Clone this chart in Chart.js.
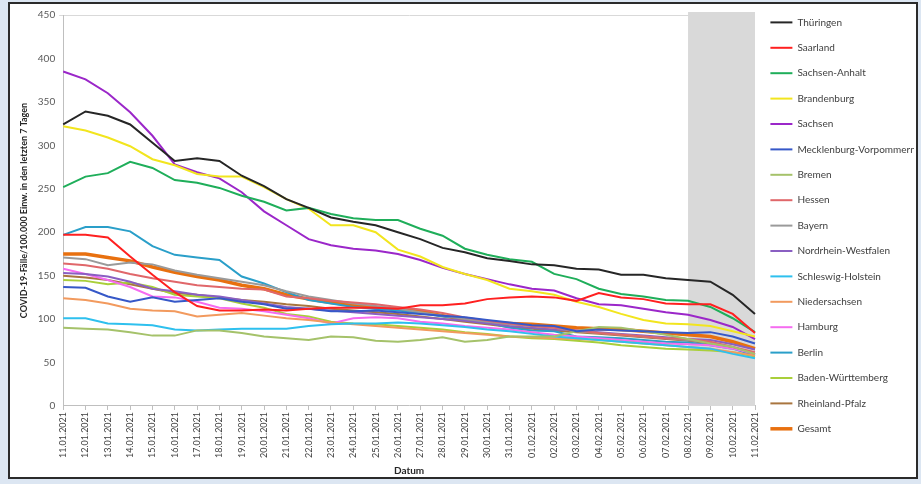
<!DOCTYPE html>
<html>
<head>
<meta charset="utf-8">
<script src="https://cdn.jsdelivr.net/npm/chart.js@4.4.1/dist/chart.umd.min.js"></script>
<style>
  html, body { margin: 0; padding: 0; background: #dce6f2; }
  #frame {
    position: absolute; left: 8px; top: 2px; width: 906px; height: 473px;
    background: #fff; border: 2px solid #2b2b2b;
  }
  #wrap { position: absolute; left: 2px; top: 1px; width: 902px; height: 472px; }
</style>
</head>
<body>
<div id="frame"><div id="wrap"><canvas id="chart"></canvas></div></div>
<script>
// Datum
const labels = ['11.01.2021','12.01.2021','13.01.2021','14.01.2021','15.01.2021','16.01.2021','17.01.2021','18.01.2021',
  '19.01.2021','20.01.2021','21.01.2021','22.01.2021','23.01.2021','24.01.2021','25.01.2021','26.01.2021',
  '27.01.2021','28.01.2021','29.01.2021','30.01.2021','31.01.2021','01.02.2021','02.02.2021','03.02.2021',
  '04.02.2021','05.02.2021','06.02.2021','07.02.2021','08.02.2021','09.02.2021','10.02.2021','11.02.2021'];

// 7-Tage-Inzidenz je Bundesland
const thueringen = [324, 339, 334, 324, 303, 282, 285, 282, 265, 253, 238, 228, 217, 212, 208, 200, 192, 182, 177, 170, 167, 163, 162, 158, 157, 151, 151, 147, 145, 143, 128, 106];
const saarland = [197, 197, 194, 172, 151, 131, 115, 110, 110, 111, 110, 112, 113, 113, 113, 112, 116, 116, 118, 123, 125, 126, 125, 121, 130, 125, 123, 118, 117, 117, 106, 84];
const sachsenAnhalt = [252, 264, 268, 281, 274, 260, 257, 251, 242, 235, 225, 228, 221, 216, 214, 214, 204, 196, 181, 174, 169, 166, 152, 146, 135, 129, 126, 122, 121, 114, 101, 85];
const brandenburg = [322, 317, 309, 299, 284, 277, 267, 264, 264, 252, 238, 227, 208, 208, 200, 180, 172, 160, 152, 145, 135, 132, 128, 120, 114, 106, 99, 95, 94, 92, 86, 80];
const sachsen = [385, 376, 360, 338, 311, 278, 269, 262, 246, 224, 208, 192, 185, 181, 179, 175, 168, 159, 152, 146, 140, 135, 133, 124, 117, 116, 112, 108, 105, 99, 91, 77];
const mecklenburg = [137, 136, 126, 120, 125, 120, 122, 124, 120, 117, 112, 112, 109, 109, 110, 108, 106, 104, 102, 99, 96, 93, 92, 86, 88, 87, 86, 85, 84, 85, 80, 72];
const bremen = [90, 89, 88, 85, 81, 81, 87, 87, 84, 80, 78, 76, 80, 79, 75, 74, 76, 79, 74, 76, 80, 80, 80, 86, 91, 90, 86, 82, 77, 72, 68, 60];
const hessen = [164, 162, 158, 152, 147, 143, 139, 137, 135, 134, 126, 124, 121, 119, 117, 114, 111, 107, 102, 98, 95, 92, 90, 87, 84, 82, 80, 78, 77, 74, 68, 62];
const bayern = [171, 169, 162, 165, 163, 156, 151, 147, 143, 139, 132, 126, 122, 118, 115, 112, 108, 104, 100, 97, 94, 92, 90, 86, 84, 82, 80, 78, 76, 73, 68, 60];
const nrw = [153, 152, 149, 143, 135, 132, 128, 126, 122, 118, 114, 112, 110, 108, 106, 104, 102, 100, 98, 95, 92, 90, 88, 87, 85, 83, 81, 79, 77, 76, 71, 65];
const schleswig = [101, 101, 95, 94, 93, 88, 87, 88, 89, 89, 89, 92, 94, 95, 95, 96, 95, 93, 91, 88, 86, 83, 80, 78, 76, 74, 72, 70, 68, 66, 60, 55];
const niedersachsen = [124, 122, 118, 112, 110, 109, 103, 105, 107, 104, 101, 99, 96, 94, 92, 90, 88, 86, 84, 82, 80, 79, 78, 77, 76, 74, 72, 70, 68, 66, 62, 58];
const hamburg = [158, 152, 145, 137, 126, 125, 120, 113, 112, 109, 105, 101, 95, 101, 102, 101, 97, 95, 92, 90, 88, 85, 82, 80, 78, 76, 74, 72, 71, 70, 66, 60];
const berlin = [197, 206, 206, 201, 184, 174, 171, 168, 149, 141, 131, 122, 118, 114, 112, 110, 107, 103, 101, 96, 90, 87, 86, 80, 79, 78, 76, 74, 73, 70, 66, 58];
const badenWuerttemberg = [145, 144, 140, 142, 137, 128, 126, 124, 118, 113, 106, 103, 97, 95, 94, 92, 90, 88, 85, 83, 80, 78, 77, 75, 73, 70, 68, 66, 65, 64, 62, 57];
const rheinlandPfalz = [150, 148, 145, 140, 135, 130, 128, 125, 122, 120, 117, 115, 112, 110, 108, 106, 103, 100, 97, 94, 91, 89, 87, 85, 83, 81, 79, 77, 75, 72, 67, 60];
const gesamt = [175, 175, 171, 167, 160, 154, 149, 145, 139, 135, 128, 123, 119, 116, 113, 112, 109, 104, 99, 96, 95, 94, 92, 90, 89, 88, 86, 84, 82, 80, 74, 66];

// grau hinterlegter Zeitraum (Nachmeldungen)
const shadeFrom = '08.02.2021';
const shadeTo = '11.02.2021';

const yTicks = [0, 50, 100, 150, 200, 250, 300, 350, 400, 450];

function line(label, data, color, width) {
    return {
        label: label,
        data: data,
        borderColor: color,
        backgroundColor: color,
        borderWidth: width || 2,
        pointRadius: 0,
        tension: 0,
        fill: false
    };
}

// grauer Hintergrund für die letzten Tage
const shadePlugin = {
    id: 'shade',
    afterLayout(chart) {
        // Legende etwas höher setzen
        chart.legend.top -= 4;
        chart.legend.bottom -= 4;
    },
    beforeDatasetsDraw(chart) {
        const x = chart.scales.x;
        const area = chart.chartArea;
        const x1 = x.getPixelForValue(labels.indexOf(shadeFrom));
        const x2 = x.getPixelForValue(labels.indexOf(shadeTo));
        const c = chart.ctx;
        c.save();
        c.fillStyle = '#d9d9d9';
        c.fillRect(x1, area.top - 3, x2 - x1, area.bottom - area.top + 3);
        c.restore();
    }
};

const ctx = document.getElementById('chart').getContext('2d');
new Chart(ctx, {
    type: 'line',
    data: {
        labels: labels,
        datasets: [
            line('Thüringen', thueringen, '#262626'),
            line('Saarland', saarland, '#ff2020'),
            line('Sachsen-Anhalt', sachsenAnhalt, '#1fae5a'),
            line('Brandenburg', brandenburg, '#f2e51e'),
            line('Sachsen', sachsen, '#9b27c9'),
            line('Mecklenburg-Vorpommern', mecklenburg, '#3658c8'),
            line('Bremen', bremen, '#a5c26a'),
            line('Hessen', hessen, '#e0676a'),
            line('Bayern', bayern, '#9a9a9a'),
            line('Nordrhein-Westfalen', nrw, '#8a5fc2'),
            line('Schleswig-Holstein', schleswig, '#2ec0ee'),
            line('Niedersachsen', niedersachsen, '#f29a5e'),
            line('Hamburg', hamburg, '#f56cf0'),
            line('Berlin', berlin, '#2a9fc9'),
            line('Baden-Württemberg', badenWuerttemberg, '#a9cf3a'),
            line('Rheinland-Pfalz', rheinlandPfalz, '#a9753f'),
            line('Gesamt', gesamt, '#e8700f', 3.5)
        ]
    },
    options: {
        responsive: true,
        maintainAspectRatio: false,
        animation: false,
        layout: { padding: { top: 1, right: 0, left: 7, bottom: 0 } },
        plugins: {
            legend: {
                position: 'right',
                align: 'start',
                maxWidth: 159,
                labels: {
                    usePointStyle: true,
                    pointStyle: 'line',
                    pointStyleWidth: 22,
                    boxWidth: 22,
                    boxHeight: 2,
                    padding: 15.4,
                    color: '#404040',
                    font: { family: 'Lato', size: 10 }
                }
            },
            tooltip: { enabled: false }
        },
        scales: {
            x: {
                offset: false,
                grid: { display: true, drawOnChartArea: false, drawTicks: true, tickLength: 4, color: '#bfbfbf' },
                border: { color: '#bfbfbf' },
                ticks: {
                    autoSkip: false,
                    minRotation: 90,
                    maxRotation: 90,
                    color: '#404040',
                    font: { family: 'Lato', size: 9 },
                    padding: 2
                },
                title: {
                    display: true,
                    text: 'Datum',
                    color: '#262626',
                    font: { family: 'Lato', size: 10, weight: 'bold' },
                    padding: { top: 5, bottom: 0 }
                }
            },
            y: {
                min: 0,
                max: 450,
                afterBuildTicks(axis) {
                    axis.ticks = yTicks.map(v => ({ value: v }));
                },
                grid: {
                    drawTicks: true,
                    tickLength: 4,
                    color: c => c.tick && c.tick.value === 450 ? '#d9d9d9' : 'rgba(0,0,0,0)'
                },
                border: { color: '#bfbfbf' },
                ticks: {
                    color: '#595959',
                    font: { family: 'Lato', size: 10 },
                    padding: 4
                },
                title: {
                    display: true,
                    text: 'COVID-19-Fälle/100.000 Einw. in den letzten 7 Tagen',
                    color: '#262626',
                    font: { family: 'Lato', size: 9, weight: 'bold' },
                    padding: { top: 0, bottom: 4 }
                }
            }
        }
    },
    plugins: [shadePlugin]
});
</script>
</body>
</html>
